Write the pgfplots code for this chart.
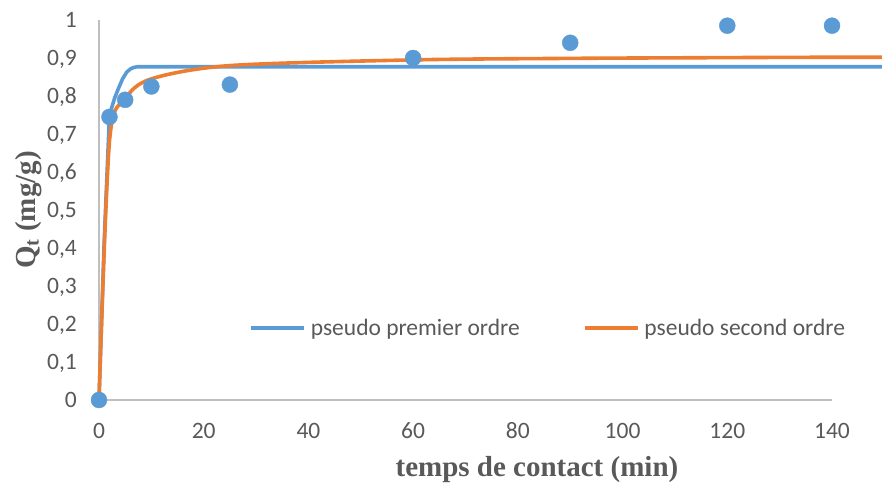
\documentclass[border=0pt]{standalone}
\usepackage{pgfplots}
\pgfplotsset{compat=1.18}
\usepackage{fontspec}
\setmainfont{Carlito}
\newfontfamily\labelfont{Liberation Serif}
\definecolor{ptblue}{HTML}{5B9BD5}
\definecolor{ptorange}{HTML}{ED7D31}
\definecolor{txtgray}{HTML}{595959}
\definecolor{axgray}{HTML}{BFBFBF}

\begin{document}
\begin{tikzpicture}
\begin{axis}[
  scale only axis,
  width=733pt, height=380pt,
  xmin=0, xmax=140, ymin=0, ymax=1,
  axis x line*=bottom, axis y line*=left,
  axis line style={draw=axgray, line width=1.1pt},
  major tick length=0pt,
  xtick={0,20,...,140},
  ytick={0,0.1,...,1},
  clip=false,
  /pgf/number format/assume math mode=true,
  /pgf/number format/use comma,
  yticklabel style={/pgf/number format/fixed, /pgf/number format/precision=1,
    anchor=base east, inner sep=0pt, xshift=-22pt, yshift=-7.5pt,
    font=\fontsize{23.5}{26}\selectfont, text=txtgray},
  xticklabel style={anchor=base, inner sep=0pt, yshift=-38pt,
    font=\fontsize{23.5}{26}\selectfont, text=txtgray},
  xlabel={temps de contact (min)},
  ylabel={Q\textsubscript{t} (mg/g)},
  xlabel style={at={(axis description cs:0.5975,-0.2026)}, anchor=base,
    inner sep=0pt, font=\labelfont\bfseries\fontsize{29}{32}\selectfont, text=txtgray},
  ylabel style={at={(axis description cs:-0.0873,0.5)}, anchor=base,
    inner sep=0pt, font=\labelfont\bfseries\fontsize{29}{32}\selectfont, text=txtgray},
  legend columns=2,
  legend style={at={(axis description cs:0.2046,0.1895)}, anchor=west,
    draw=none, fill=none, inner sep=0pt,
    font=\fontsize{23.5}{26}\selectfont, text=txtgray,
    nodes={inner sep=0pt},
    /tikz/every even column/.append style={column sep=63pt},
    /tikz/every odd column/.append style={column sep=5pt}},
  legend image code/.code={\draw[#1, line width=3.6pt] (0pt,0pt) -- (53pt,0pt);},
  legend cell align=left,
]
% measured adsorption capacity
\addplot[only marks, mark=*, mark size=8pt, color=ptblue, forget plot]
  coordinates {(0,0) (2,0.745) (5,0.79) (10,0.825) (25,0.83)
               (60,0.90) (90,0.94) (120,0.985) (140,0.985)};
% pseudo first order model
\addplot[ptblue, line width=3.6pt, line join=round] coordinates {
  (0,0) (1,0.42) (2,0.750) (3,0.795) (3.6,0.816) (4.5,0.845) (5.3,0.863)
  (6,0.871) (6.6,0.875) (7.3,0.877) (8,0.877) (10,0.877) (150,0.877)};
\addlegendentry{pseudo premier ordre}
% pseudo second order model
\addplot[ptorange, line width=3.6pt, smooth, tension=0.5] coordinates {
  (0,0) (2,0.680) (5,0.792) (10,0.845) (25,0.880) (60,0.895)
  (90,0.899) (120,0.901) (140,0.902) (150,0.902)};
\addlegendentry{pseudo second ordre}
\end{axis}
\pgfresetboundingbox
\path[use as bounding box] ([shift={(-99pt,-84pt)}]current axis.south west)
  rectangle ([shift={(50pt,20pt)}]current axis.north east);
\end{tikzpicture}
\end{document}
